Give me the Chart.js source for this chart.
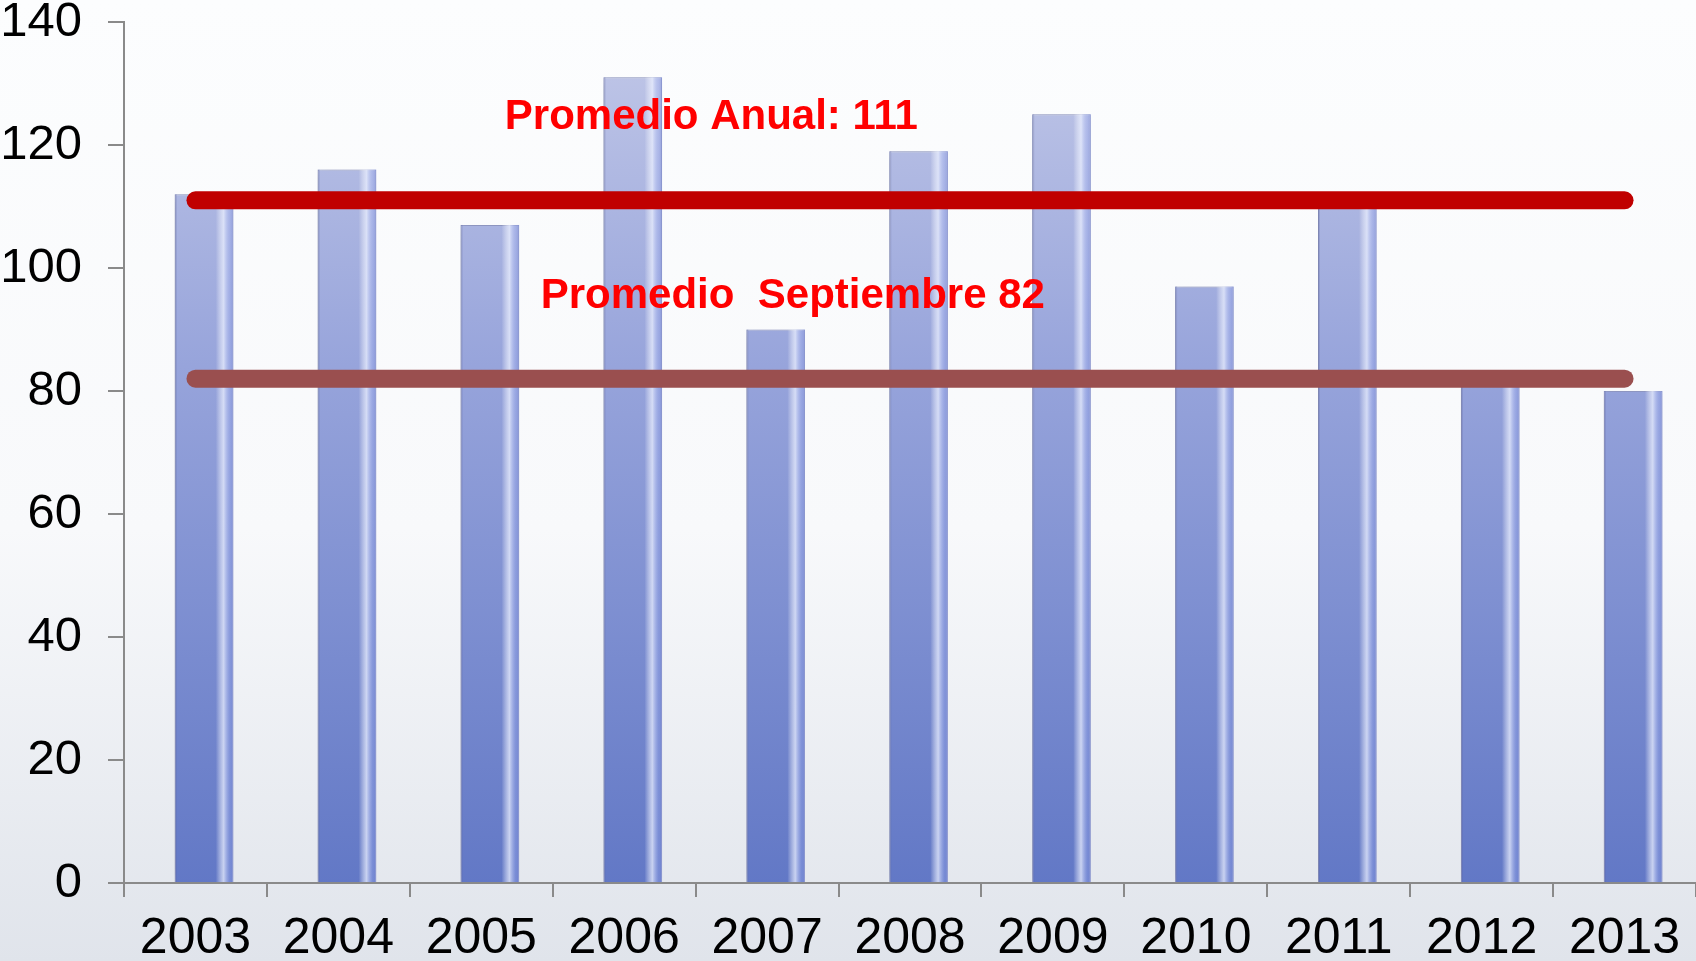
<!DOCTYPE html>
<html>
<head>
<meta charset="utf-8">
<script src="https://cdn.jsdelivr.net/npm/chart.js@4.4.0/dist/chart.umd.min.js"></script>
<style>
    html, body { margin: 0; padding: 0; }
    body {
        width: 1696px;
        height: 961px;
        background: linear-gradient(#fcfdfe 0%, #f8f9fb 55%, #e0e4eb 100%);
    }
    #wrap { position: relative; width: 1696px; height: 961px; }
</style>
</head>
<body>
<div id="wrap"><canvas id="grafico"></canvas></div>
<script>
const anios = ['2003', '2004', '2005', '2006', '2007', '2008', '2009', '2010', '2011', '2012', '2013'];
const valores = [112, 116, 107, 131, 90, 119, 125, 97, 111, 82, 80];
const promedioAnual = [111, 111, 111, 111, 111, 111, 111, 111, 111, 111, 111];
const promedioSeptiembre = [82, 82, 82, 82, 82, 82, 82, 82, 82, 82, 82];
const ticksY = [0, 20, 40, 60, 80, 100, 120, 140];
const textoAnual = 'Promedio Anual: 111';
const textoSeptiembre = 'Promedio  Septiembre 82';

const fuenteEjes = '"Liberation Sans", Arial, sans-serif';

// degradado de las barras (claro arriba, azul abajo)
function degradadoBarras(context) {
    const chart = context.chart;
    const area = chart.chartArea;
    if (!area) return '#8a98d6';
    const g = chart.ctx.createLinearGradient(0, area.top, 0, area.bottom);
    g.addColorStop(0, '#c3c9e8');
    g.addColorStop(0.4, '#97a4db');
    g.addColorStop(1, '#6278c6');
    return g;
}

// las barras van un poco a la derecha del centro de la categoría
const desplazar = {
    id: 'desplazar',
    afterDatasetsUpdate(chart) {
        const x = chart.scales.x;
        const paso = x.getPixelForValue(1) - x.getPixelForValue(0);
        chart.getSortedVisibleDatasetMetas().forEach(meta => {
            if (meta.type !== 'bar') return;
            meta.data.forEach(bar => { bar.x += paso * 0.06; });
        });
    },
    beforeDatasetDraw(chart, args) {
        if (args.meta.type !== 'bar') return;
        const ctx = chart.ctx;
        ctx.save();
        ctx.shadowColor = 'rgba(0,0,0,0.18)';
        ctx.shadowBlur = 14;
        ctx.shadowOffsetX = -3;
    },
    afterDatasetDraw(chart, args) {
        if (args.meta.type !== 'bar') return;
        chart.ctx.restore();
    }
};

// brillo lateral de las barras (efecto 3D)
const brillo = {
    id: 'brillo',
    afterDatasetDraw(chart, args) {
        if (args.meta.type !== 'bar') return;
        const { ctx } = chart;
        ctx.save();
        args.meta.data.forEach(bar => {
            const w = bar.width;
            const left = bar.x - w / 2;
            const top = bar.y;
            const h = bar.base - bar.y;
            const g = ctx.createLinearGradient(left + w * 0.7, 0, left + w, 0);
            g.addColorStop(0, 'rgba(255,255,255,0)');
            g.addColorStop(0.45, 'rgba(235,240,255,0.75)');
            g.addColorStop(0.8, 'rgba(160,175,240,0.35)');
            g.addColorStop(1, 'rgba(120,135,210,0.5)');
            ctx.fillStyle = g;
            ctx.fillRect(left + w * 0.7, top, w * 0.3, h);
            ctx.fillStyle = 'rgba(90,100,160,0.25)';
            ctx.fillRect(left, top, 2, h);
        });
        ctx.restore();
    }
};

// textos de los promedios
const etiquetas = {
    id: 'etiquetas',
    afterDatasetsDraw(chart) {
        const { ctx, scales: { x, y } } = chart;
        ctx.save();
        ctx.font = 'bold 42px "Liberation Sans", Arial, sans-serif';
        ctx.fillStyle = '#FF0000';
        ctx.textAlign = 'center';
        ctx.textBaseline = 'middle';
        ctx.fillText(textoAnual, x.getPixelForValue(3.61), y.getPixelForValue(124.5));
        ctx.fillText(textoSeptiembre, x.getPixelForValue(4.18), y.getPixelForValue(95.3));
        ctx.restore();
    }
};

const ctx = document.getElementById('grafico').getContext('2d');
new Chart(ctx, {
    type: 'bar',
    data: {
        labels: anios,
        datasets: [{
            label: 'Promedio Anual',
            type: 'line',
            data: promedioAnual,
            borderColor: '#C00000',
            borderWidth: 18,
            borderCapStyle: 'round',
            pointRadius: 0,
            fill: false,
            order: 0
        }, {
            label: 'Promedio Septiembre',
            type: 'line',
            data: promedioSeptiembre,
            borderColor: '#9A4F4F',
            borderWidth: 18,
            borderCapStyle: 'round',
            pointRadius: 0,
            fill: false,
            order: 0
        }, {
            label: 'Valores',
            data: valores,
            backgroundColor: degradadoBarras,
            borderColor: '#9aa3d2',
            borderWidth: 1,
            barPercentage: 0.41,
            categoryPercentage: 1,
            order: 1
        }]
    },
    options: {
        responsive: true,
        maintainAspectRatio: false,
        animation: false,
        layout: { padding: 0 },
        plugins: {
            legend: { display: false },
            tooltip: { enabled: false }
        },
        scales: {
            x: {
                afterFit(axis) {
                    axis.height = 78;
                    axis.paddingLeft = 0;
                    axis.paddingRight = 0;
                },
                grid: {
                    drawOnChartArea: false,
                    drawTicks: true,
                    tickLength: 14,
                    color: '#8a8a8a',
                    lineWidth: 2
                },
                border: { color: '#8a8a8a', width: 2 },
                ticks: {
                    color: '#000',
                    padding: 17,
                    maxRotation: 0,
                    font: { family: fuenteEjes, size: 50, lineHeight: 1 }
                }
            },
            y: {
                min: 0,
                max: 140,
                afterBuildTicks(axis) { axis.ticks = ticksY.map(v => ({ value: v })); },
                afterFit(axis) {
                    axis.width = 124;
                    axis.paddingTop = 22;
                    axis.paddingBottom = 0;
                },
                grid: {
                    drawOnChartArea: false,
                    drawTicks: true,
                    tickLength: 16,
                    color: '#8a8a8a',
                    lineWidth: 2
                },
                border: { color: '#8a8a8a', width: 2 },
                ticks: {
                    color: '#000',
                    padding: 26,
                    font: { family: fuenteEjes, size: 49, lineHeight: 1 }
                }
            }
        }
    },
    plugins: [desplazar, brillo, etiquetas]
});
</script>
</body>
</html>
